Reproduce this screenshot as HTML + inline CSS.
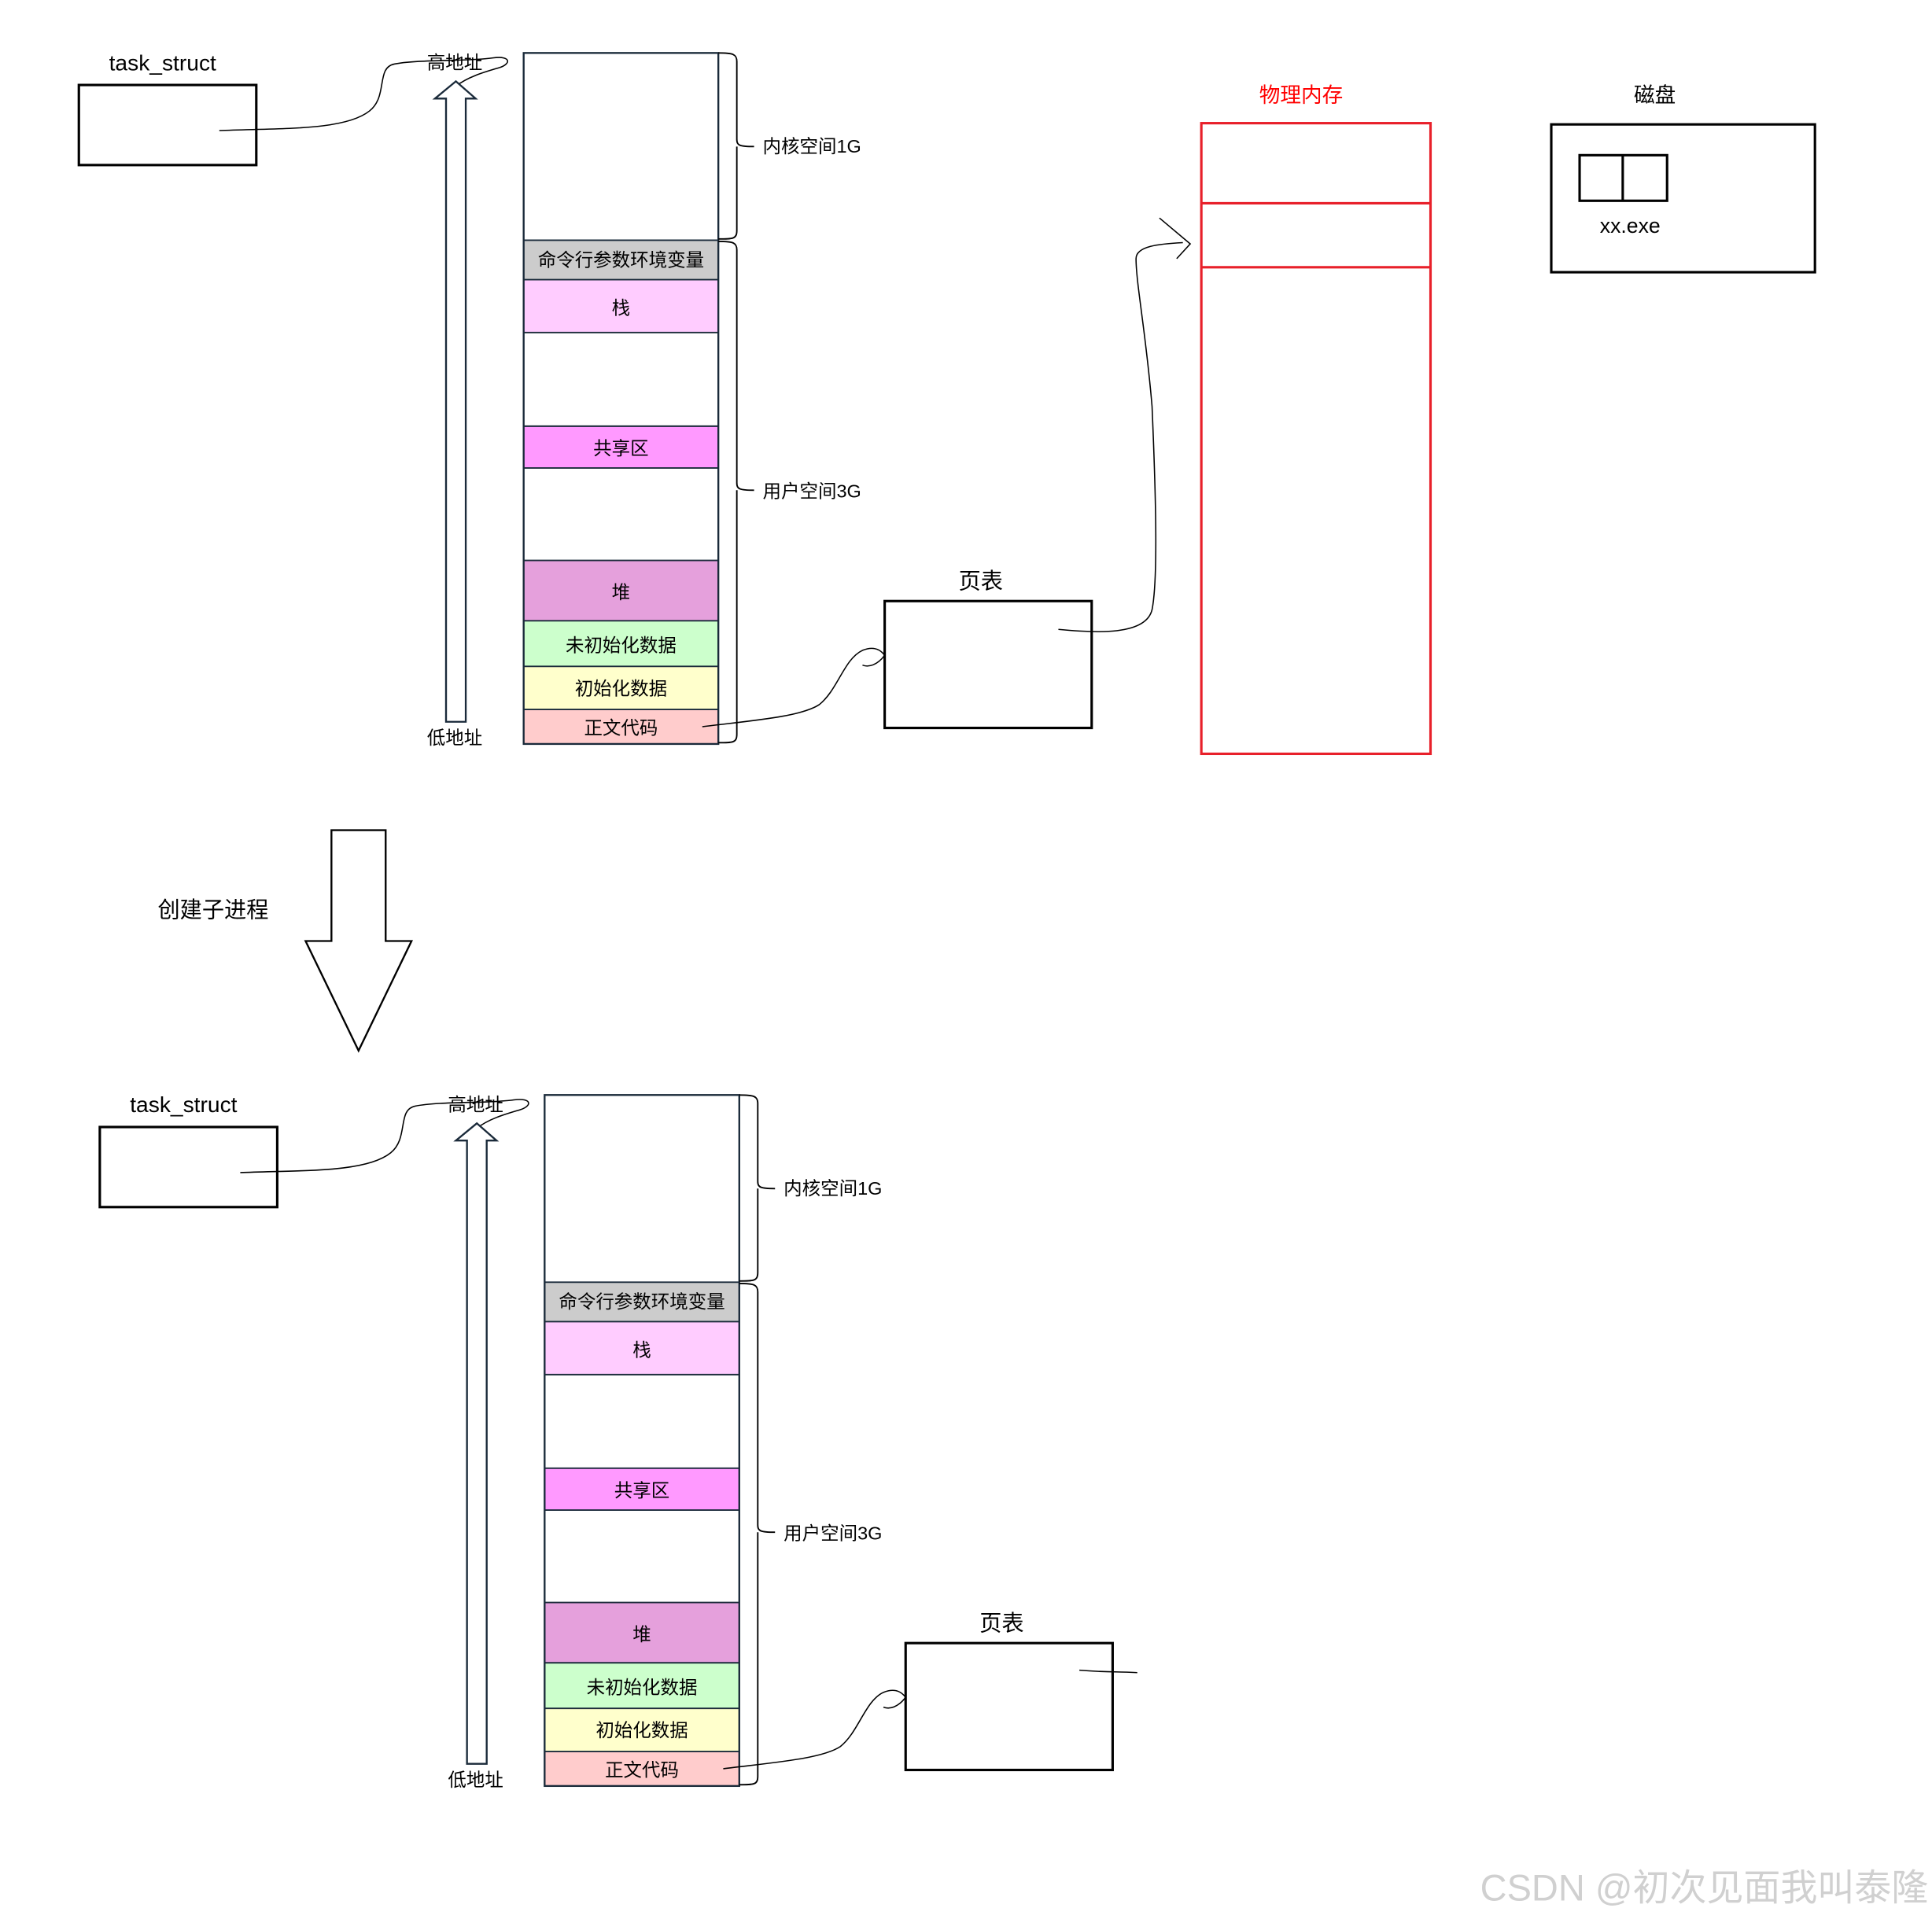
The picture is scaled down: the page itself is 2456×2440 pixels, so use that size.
<!DOCTYPE html>
<html><head><meta charset="utf-8"><style>
html,body{margin:0;padding:0;background:#fff;}
svg{display:block;}
text{font-family:"Liberation Sans","Noto Sans CJK SC",sans-serif;}
</style></head><body>
<svg width="2456" height="2440" viewBox="0 0 1568 1558" preserveAspectRatio="none" xmlns="http://www.w3.org/2000/svg">
<defs>
<g id="proc">
  <text x="132" y="57" font-size="18" text-anchor="middle">task_struct</text>
  <rect x="64" y="69" width="144" height="65" fill="none" stroke="#000" stroke-width="2"/>
  <path d="M178,106 C230,104 280,106 300,90 C315,78 305,55 320,52 C340,48 380,50 400,47 C415,45 415,52 405,55 C395,58 380,62 370,70" fill="none" stroke="#000" stroke-width="1"/>
  <text x="369" y="56" font-size="15" text-anchor="middle">高地址</text>
  <text x="369" y="604" font-size="15" text-anchor="middle">低地址</text>
  <path d="M362,586 L362,80 L353,80 L370,66 L386,80 L378,80 L378,586 Z" fill="#fff" stroke="#1a2a3a" stroke-width="1.5"/>
  <rect x="425" y="195" width="158" height="32" fill="#cccccc"/>
  <rect x="425" y="227" width="158" height="43" fill="#ffccff"/>
  <rect x="425" y="346" width="158" height="34" fill="#ff99ff"/>
  <rect x="425" y="455" width="158" height="49" fill="#e5a0dc"/>
  <rect x="425" y="504" width="158" height="37" fill="#ccffcc"/>
  <rect x="425" y="541" width="158" height="35" fill="#ffffcc"/>
  <rect x="425" y="576" width="158" height="28" fill="#ffcccc"/>
  <rect x="425" y="43" width="158" height="561" fill="none" stroke="#1a2a3a" stroke-width="1.5"/>
  <g stroke="#1a2a3a" stroke-width="1.2">
    <line x1="425" y1="195" x2="583" y2="195"/><line x1="425" y1="227" x2="583" y2="227"/>
    <line x1="425" y1="270" x2="583" y2="270"/><line x1="425" y1="346" x2="583" y2="346"/>
    <line x1="425" y1="380" x2="583" y2="380"/><line x1="425" y1="455" x2="583" y2="455"/>
    <line x1="425" y1="504" x2="583" y2="504"/><line x1="425" y1="541" x2="583" y2="541"/>
    <line x1="425" y1="576" x2="583" y2="576"/>
  </g>
  <g font-size="15" text-anchor="middle">
    <text x="504" y="216">命令行参数环境变量</text>
    <text x="504" y="255">栈</text>
    <text x="504" y="369">共享区</text>
    <text x="504" y="486">堆</text>
    <text x="504" y="529">未初始化数据</text>
    <text x="504" y="564">初始化数据</text>
    <text x="504" y="596">正文代码</text>
  </g>
  <path d="M583,43 C595,43 598,44 598,50 L598,113 C598,118 600,119 612,119 M598,119 C598,120 598,125 598,130 L598,187 C598,194 595,194 583,194" fill="none" stroke="#000" stroke-width="1.2"/>
  <path d="M583,196 C595,196 598,197 598,203 L598,392 C598,397 600,398 612,398 M598,398 L598,596 C598,603 595,603 583,603" fill="none" stroke="#000" stroke-width="1.2"/>
  <text x="619" y="124" font-size="15">内核空间1G</text>
  <text x="619" y="404" font-size="15">用户空间3G</text>
  <path d="M570,590 C610,585 650,582 665,572 C680,560 685,535 700,528 C710,524 715,528 718,532 C712,540 705,542 700,540" fill="none" stroke="#000" stroke-width="1"/>
  <rect x="718" y="488" width="168" height="103" fill="none" stroke="#000" stroke-width="2"/>
</g>
</defs>
<use href="#proc"/>
<use href="#proc" transform="translate(17,846)"/>
<text x="796" y="478" font-size="18" text-anchor="middle">页表</text>
<text x="813" y="1324" font-size="18" text-anchor="middle">页表</text>
<path d="M859,511 C890,514 930,516 935,495 C940,470 938,400 935,330 C930,270 922,230 922,210 C922,200 940,198 960,197 M941,177 L966,198 L955,210" fill="none" stroke="#000" stroke-width="1"/>
<path d="M876,1356 C900,1358 910,1357 923,1358" fill="none" stroke="#000" stroke-width="1"/>
<text x="1056" y="83" font-size="17" fill="#ff0000" text-anchor="middle">物理内存</text>
<rect x="975" y="100" width="186" height="512" fill="none" stroke="#e8202a" stroke-width="2"/>
<line x1="975" y1="165" x2="1161" y2="165" stroke="#e8202a" stroke-width="2"/>
<line x1="975" y1="217" x2="1161" y2="217" stroke="#e8202a" stroke-width="2"/>
<text x="1343" y="83" font-size="17" text-anchor="middle">磁盘</text>
<rect x="1259" y="101" width="214" height="120" fill="none" stroke="#000" stroke-width="2"/>
<rect x="1282" y="126" width="71" height="37" fill="none" stroke="#000" stroke-width="2"/>
<line x1="1317" y1="126" x2="1317" y2="163" stroke="#000" stroke-width="2"/>
<text x="1323" y="189" font-size="17" text-anchor="middle">xx.exe</text>
<text x="173" y="745" font-size="18" text-anchor="middle">创建子进程</text>
<path d="M269,674 L313,674 L313,764 L334,764 L291,853 L248,764 L269,764 Z" fill="#fff" stroke="#000" stroke-width="1.5"/>
<text x="1565" y="1543" font-size="30" fill="#d0d0d0" text-anchor="end">CSDN @初次见面我叫泰隆</text>
</svg>
</body></html>
